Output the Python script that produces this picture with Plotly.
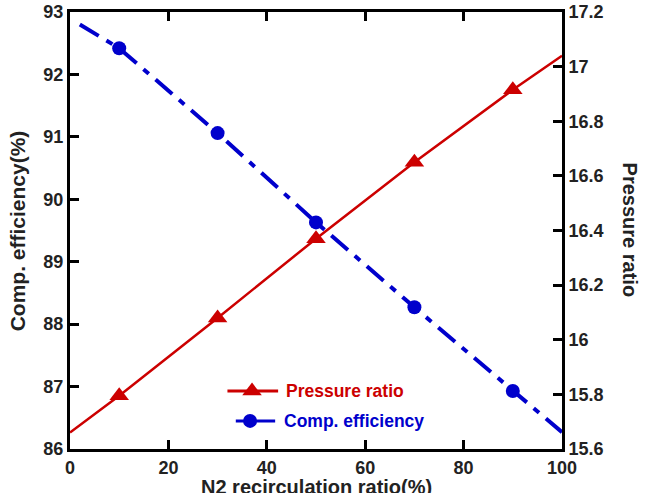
import plotly.graph_objects as go

# Data
x_pts = [10, 30, 50, 70, 90]
eff_pts = [92.42, 91.06, 89.63, 88.27, 86.93]
pr_pts = [15.795, 16.08, 16.37, 16.65, 16.915]

# fitted-line end values
eff_line_x = [2, 10, 30, 50, 70, 90, 100]
eff_line_y = [92.8, 92.42, 91.06, 89.63, 88.27, 86.93, 86.27]
pr_line_x = [0, 10, 30, 50, 70, 90, 100]
pr_line_y = [15.66, 15.795, 16.08, 16.37, 16.65, 16.915, 17.04]

x_ticks = [0, 20, 40, 60, 80, 100]
y_ticks = [86, 87, 88, 89, 90, 91, 92, 93]
y2_ticks = [15.6, 15.8, 16.0, 16.2, 16.4, 16.6, 16.8, 17.0, 17.2]
y2_labels = ["15.6", "15.8", "16", "16.2", "16.4", "16.6", "16.8", "17", "17.2"]

series_names = ["Pressure ratio", "Comp. efficiency"]

RED = "#cc0000"
BLUE = "#0000cc"
FONT = "Liberation Sans"
TXT = "#222222"

# hand-built legend placement (layout, not data)
LEG_PR = dict(x0=32, x1=42.3, xm=37, y=15.812, tx=43.5)
LEG_EF = dict(x0=33.7, x1=41.7, xm=36.6, y=86.45, tx=43.0)

tickfont = dict(family=FONT, size=18, color=TXT, weight="bold")
titlefont = dict(family=FONT, size=20, color=TXT, weight="bold")

base = dict(showline=True, linewidth=3, linecolor="black",
            ticks="inside", ticklen=9, tickwidth=3, tickcolor="black", showgrid=False)

fig = go.Figure()
fig.add_trace(go.Scatter(x=eff_line_x, y=eff_line_y, mode="lines", xaxis="x", yaxis="y",
                         line=dict(color=BLUE, width=4, dash="22px,9px,7px,9px")))
fig.add_trace(go.Scatter(x=x_pts, y=eff_pts, mode="markers", xaxis="x", yaxis="y",
                         marker=dict(symbol="circle", size=14, color=BLUE)))
fig.add_trace(go.Scatter(x=pr_line_x, y=pr_line_y, mode="lines", xaxis="x", yaxis="y2",
                         line=dict(color=RED, width=2.5)))
fig.add_trace(go.Scatter(x=x_pts, y=pr_pts, mode="markers", xaxis="x", yaxis="y2",
                         marker=dict(symbol="triangle-up", size=17, color=RED)))

# legend glyphs
fig.add_trace(go.Scatter(x=[LEG_PR["x0"], LEG_PR["x1"]], y=[LEG_PR["y"]] * 2,
                         mode="lines", xaxis="x", yaxis="y2", line=dict(color=RED, width=3)))
fig.add_trace(go.Scatter(x=[LEG_PR["xm"]], y=[LEG_PR["y"]], mode="markers", xaxis="x", yaxis="y2",
                         marker=dict(symbol="triangle-up", size=17, color=RED)))
fig.add_trace(go.Scatter(x=[LEG_EF["x0"], LEG_EF["x1"]], y=[LEG_EF["y"]] * 2,
                         mode="lines", xaxis="x", yaxis="y", line=dict(color=BLUE, width=3)))
fig.add_trace(go.Scatter(x=[LEG_EF["xm"]], y=[LEG_EF["y"]], mode="markers", xaxis="x", yaxis="y",
                         marker=dict(symbol="circle", size=14, color=BLUE)))

fig.update_layout(
    width=647, height=493, template="none", showlegend=False,
    margin=dict(l=70, r=85, t=12, b=44),
    xaxis=dict(anchor="y", range=[0, 100], tickmode="array", tickvals=x_ticks,
               tickfont=tickfont, **{**base, "mirror": "ticks"}),
    yaxis=dict(anchor="x", range=[86, 93], tickmode="array", tickvals=y_ticks,
               tickfont=tickfont, **{**base, "mirror": True}),
    yaxis2=dict(anchor="x", overlaying="y", side="right", range=[15.6, 17.2],
                tickmode="array", tickvals=y2_ticks, ticktext=y2_labels,
                tickfont=tickfont, **base),
    annotations=[
        dict(text=series_names[0], xref="x", yref="y2", x=LEG_PR["tx"], y=LEG_PR["y"],
             xanchor="left", yanchor="middle", showarrow=False,
             font=dict(family=FONT, size=17.5, color=RED, weight="bold")),
        dict(text=series_names[1], xref="x", yref="y", x=LEG_EF["tx"], y=LEG_EF["y"],
             xanchor="left", yanchor="middle", showarrow=False,
             font=dict(family=FONT, size=17.5, color=BLUE, weight="bold")),
        dict(text="N2 recirculation ratio(%)", xref="paper", yref="paper",
             x=0.5, y=-0.088, xanchor="center", yanchor="middle",
             showarrow=False, font=titlefont),
        dict(text="Comp. efficiency(%)", textangle=-90, xref="paper", yref="paper",
             x=-0.106, y=0.5, xanchor="center", yanchor="middle",
             showarrow=False, font=dict(family=FONT, size=21, color=TXT, weight="bold")),
        dict(text="Pressure ratio", textangle=90, xref="paper", yref="paper",
             x=1.14, y=0.5, xanchor="center", yanchor="middle",
             showarrow=False, font=titlefont),
    ],
)

fig.write_html("out.html")
